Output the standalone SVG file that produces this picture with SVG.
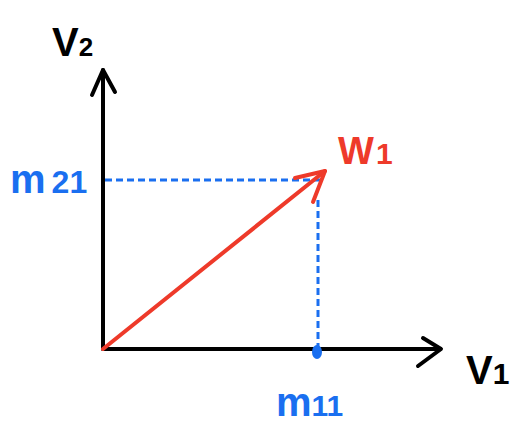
<svg xmlns="http://www.w3.org/2000/svg" width="512" height="426" viewBox="0 0 512 426">
<style>
.ax{stroke:#000;stroke-width:4;fill:none;stroke-linecap:round;stroke-linejoin:round}
.vec{stroke:#ee3a2a;stroke-width:4;fill:none;stroke-linecap:round;stroke-linejoin:round}
.dash{stroke:#1a6ff0;stroke-width:3;fill:none;stroke-dasharray:7 4}
.lbl{font-family:"Liberation Sans","DejaVu Sans",sans-serif;font-weight:bold}
.blk{fill:#000}
.blu{fill:#1a6ff0}
.red{fill:#ee3a2a}
</style>
<rect width="512" height="426" fill="#fff"/>
<g id="connectors">
<path class="dash" d="M105 180 H320"/>
<path class="dash" d="M318 200 V347"/>
<path class="ax" d="M103 349 V70"/>
<path class="ax" d="M92 95 L103 70 L115 92"/>
<path class="ax" d="M103 349 H440"/>
<path class="ax" d="M423 338 L441 349 L418 366"/>
<path class="vec" d="M103 349 L325 171"/>
<path class="vec" d="M295 178 L325 171 L313 202"/>
</g>
<g id="m11-dot"><ellipse cx="317" cy="352" rx="5" ry="7" class="blu"/></g>
<g id="v2-label"><text class="lbl blk" x="52" y="56" font-size="40">V<tspan font-size="26">2</tspan></text></g>
<g id="m21-label"><text class="lbl blu" x="10" y="193" font-size="40">m<tspan font-size="32" dx="6">21</tspan></text></g>
<g id="w1-label"><text class="lbl red" x="338" y="164" font-size="38">W<tspan font-size="30" dx="2">1</tspan></text></g>
<g id="v1-label"><text class="lbl blk" x="466" y="384" font-size="40">V<tspan font-size="30">1</tspan></text></g>
<g id="m11-label"><text class="lbl blu" x="276" y="416" font-size="40">m<tspan font-size="30">11</tspan></text></g>
</svg>
